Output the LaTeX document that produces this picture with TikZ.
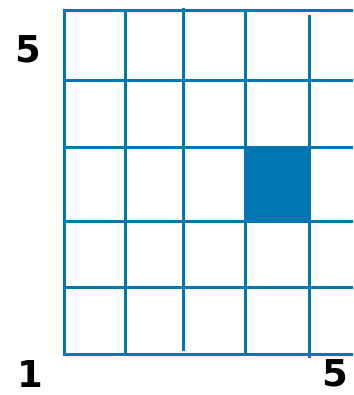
\documentclass[tikz,border=0pt]{standalone}
\usepackage{fontspec}
\newfontfamily\labelfont{DejaVu Sans}
\definecolor{gridblue}{RGB}{0,118,178}
\begin{document}
\begin{tikzpicture}[x=1pt,y=-1pt,
  gridline/.style={draw=gridblue,line width=3pt},
  lbl/.style={font=\labelfont\bfseries\fontsize{37}{37}\selectfont,text=black,inner sep=0pt}]
\useasboundingbox (0,0) rectangle (353,395);
\clip (0,0) rectangle (353,395);
% shaded cell
\fill[gridblue] (244,147.5) rectangle (309.5,221.5);
% horizontal lines
\foreach \y in {11,81,148,221,287,354}
  \draw[gridline] (62.5,\y) -- (380,\y);
% vertical lines
\draw[gridline] (64,11) -- (64,355.5);
\draw[gridline] (125,11) -- (125,354);
\draw[gridline] (183,8) -- (183,351);
\draw[gridline] (245,11) -- (245,354);
\draw[gridline] (309,15) -- (309,358);
% labels
\node[lbl] (ytop) at (28,49) {5};
\node[lbl] (ybot) at (30,374) {1};
\node[lbl,anchor=east] (xright) at (348,373) {5};
\end{tikzpicture}
\end{document}
